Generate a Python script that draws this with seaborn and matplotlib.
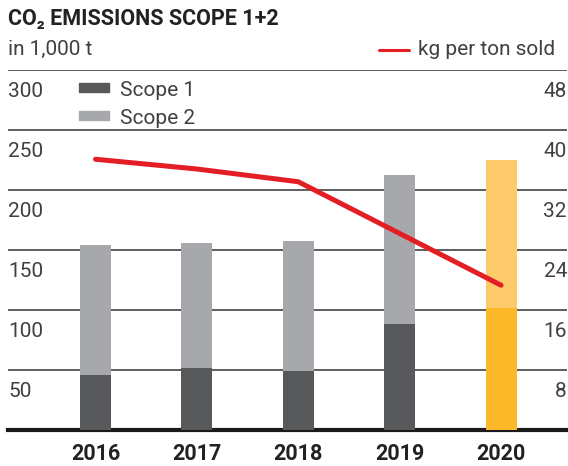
import matplotlib
matplotlib.use("Agg")
import matplotlib.pyplot as plt
import matplotlib.transforms as mtransforms
from matplotlib.patches import Rectangle
from matplotlib.lines import Line2D
import seaborn as sns

# ---- data ----
years = ["2016", "2017", "2018", "2019", "2020"]
scope1 = [46, 52, 49, 88, 102]
scope2 = [108, 104, 108.5, 124.5, 123]
kg_per_ton = [36.1, 34.8, 33.1, 26.2, 19.3]
left_ticks = [50, 100, 150, 200, 250, 300]
right_ticks = [8, 16, 24, 32, 40, 48]

totals = [a + b for a, b in zip(scope1, scope2)]

sns.set_theme(style="white")
plt.rcParams["font.family"] = ["Roboto", "DejaVu Sans"]

W, H = 568, 466
fig = plt.figure(figsize=(W / 100, H / 100), dpi=100)
ax = fig.add_axes([8 / W, (H - 430) / H, (567 - 8) / W, 360 / H])

TXT = "#404040"
LW = "normal"
c_s1 = ["#58595b"] * 4 + ["#fbb829"]
c_s2 = ["#a7a8ab"] * 4 + ["#fdca6b"]

sns.barplot(x=years, y=totals, hue=years, palette=c_s2, width=0.306,
            saturation=1, legend=False, ax=ax, zorder=2,
            linewidth=0, edgecolor="none")
sns.barplot(x=years, y=scope1, hue=years, palette=c_s1, width=0.306,
            saturation=1, legend=False, ax=ax, zorder=3,
            linewidth=0, edgecolor="none")

ax.set_ylim(0, 300)
ax.set_xlim(-0.863, 4.65)
ax.set_yticks(left_ticks)
ax.set_yticklabels([])
ax.tick_params(axis="y", length=0)
ax.grid(axis="y", color="#333333", linewidth=1.1)
ax.grid(axis="x", visible=False)
ax.set_axisbelow(True)
for s in ["left", "right", "top"]:
    ax.spines[s].set_visible(False)
ax.spines["bottom"].set_linewidth(3)
ax.spines["bottom"].set_color("#1a1a1a")
ax.set_xlabel("")
ax.set_ylabel("")
ax.tick_params(axis="x", length=0, pad=9)
for lab in ax.get_xticklabels():
    lab.set_fontweight("bold")
    lab.set_fontsize(15.5)
    lab.set_color("#222222")

# secondary axis line
ax2 = ax.twinx()
ax2.set_ylim(0, 48)
sns.lineplot(x=list(range(len(years))), y=kg_per_ton, ax=ax2, color="#e31e24",
             linewidth=3.6, solid_capstyle="round", zorder=5)
ax2.set_yticks([])
for s in ax2.spines.values():
    s.set_visible(False)
ax2.set_xlim(-0.863, 4.65)

# tick labels (placed below their gridlines)
off = mtransforms.ScaledTranslation(0, -27 / 100, fig.dpi_scale_trans)
tl = mtransforms.blended_transform_factory(ax.transAxes, ax.transData) + off
for v in left_ticks:
    ax.text(0, v, f"{v}", transform=tl, ha="left", va="baseline",
            fontsize=15, color=TXT, fontweight=LW)
tr = mtransforms.blended_transform_factory(ax2.transAxes, ax2.transData) + off
for v in right_ticks:
    ax2.text(1, v, f"{v}", transform=tr, ha="right", va="baseline",
             fontsize=15, color=TXT, fontweight=LW)

def fx(x):
    return x / W

def fy(y):
    return 1 - y / H

# title
fig.text(fx(8), fy(25), "CO\u2082 EMISSIONS SCOPE 1+2", fontsize=15.5,
         fontweight="bold", color="#222222", ha="left", va="baseline")
fig.text(fx(8), fy(55), "in 1,000 t", fontsize=15, color=TXT,
         ha="left", va="baseline", fontweight=LW)

# legend scope
fig.patches.append(Rectangle((fx(79), fy(92)), 30 / W, 9 / H,
                             transform=fig.transFigure, color=c_s1[0]))
fig.patches.append(Rectangle((fx(79), fy(120)), 30 / W, 9 / H,
                             transform=fig.transFigure, color=c_s2[0]))
fig.text(fx(120), fy(96.5), "Scope 1", fontsize=15, color=TXT, va="baseline",
         fontweight=LW)
fig.text(fx(120), fy(123.5), "Scope 2", fontsize=15, color=TXT, va="baseline",
         fontweight=LW)

# legend line
fig.lines.append(Line2D([fx(379), fx(409)], [fy(50), fy(50)],
                        transform=fig.transFigure, color="#e31e24", linewidth=2.2))
fig.text(fx(418), fy(55), "kg per ton sold", fontsize=15, color=TXT,
         va="baseline", fontweight=LW)

fig.savefig("out.png", dpi=100)
